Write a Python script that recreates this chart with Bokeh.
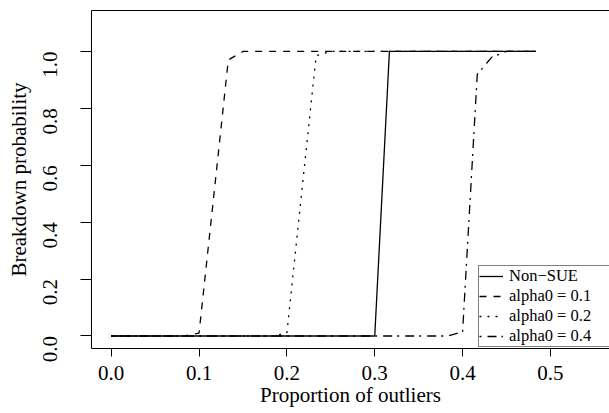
import math
from bokeh.plotting import figure
from bokeh.models import (Legend, LegendItem, LinearAxis, FixedTicker,
                          PrintfTickFormatter, Range1d)
from bokeh.embed import file_html
from bokeh.resources import INLINE

# ---- data ----
proportion = [0.0, 0.0167, 0.0333, 0.05, 0.0667, 0.0833, 0.1, 0.1167, 0.1333,
              0.15, 0.1667, 0.1833, 0.2, 0.2167, 0.2333, 0.25, 0.2667, 0.2833,
              0.3, 0.3167, 0.3333, 0.35, 0.3667, 0.3833, 0.4, 0.4167, 0.4333,
              0.45, 0.4667, 0.4833]
non_sue = [0, 0, 0, 0, 0, 0, 0, 0, 0, 0, 0, 0, 0, 0, 0, 0, 0, 0, 0,
           1, 1, 1, 1, 1, 1, 1, 1, 1, 1, 1]
alpha01 = [0, 0, 0, 0, 0, 0, 0.01, 0.49, 0.97, 1, 1, 1, 1, 1, 1, 1, 1, 1, 1,
           1, 1, 1, 1, 1, 1, 1, 1, 1, 1, 1]
alpha02 = [0, 0, 0, 0, 0, 0, 0, 0, 0, 0, 0, 0, 0.01, 0.50, 0.985, 1, 1, 1, 1,
           1, 1, 1, 1, 1, 1, 1, 1, 1, 1, 1]
alpha04 = [0, 0, 0, 0, 0, 0, 0, 0, 0, 0, 0, 0, 0, 0, 0, 0, 0, 0, 0,
           0, 0, 0, 0, 0, 0.015, 0.92, 0.98, 1, 1, 1]

series_labels = ["Non\u2212SUE", "alpha0 = 0.1", "alpha0 = 0.2", "alpha0 = 0.4"]
x_ticks = [0.0, 0.1, 0.2, 0.3, 0.4, 0.5]
y_ticks = [0.0, 0.2, 0.4, 0.6, 0.8, 1.0]

FONT = "Liberation Serif"

p = figure(width=609, height=413,
           x_range=Range1d(-0.0224, 0.5672), y_range=Range1d(-0.044, 1.144),
           output_backend="svg", toolbar_location=None,
           min_border_left=91, min_border_right=0, min_border_top=10,
           min_border_bottom=65)
p.outline_line_color = None
p.grid.visible = False
p.background_fill_color = "white"
p.border_fill_color = "white"

# axes
for ax in (p.xaxis[0], p.yaxis[0]):
    ax.axis_line_color = "black"
    ax.axis_line_width = 1
    ax.major_tick_line_color = "black"
    ax.major_tick_in = 0
    ax.minor_tick_line_color = None
    ax.major_label_text_font = FONT
    ax.major_label_text_font_size = "21px"
    ax.major_label_text_color = "black"
    ax.axis_label_text_font = FONT
    ax.axis_label_text_font_size = "21px"
    ax.axis_label_text_font_style = "normal"
    ax.axis_label_text_color = "black"
    ax.formatter = PrintfTickFormatter(format="%.1f")

p.xaxis.ticker = FixedTicker(ticks=x_ticks)
p.yaxis.ticker = FixedTicker(ticks=y_ticks)
p.xaxis.major_tick_out = 8
p.yaxis.major_tick_out = 11
p.xaxis.major_label_standoff = 9
p.xaxis.axis_label_standoff = 0
p.yaxis.major_label_standoff = 30
p.yaxis.axis_label_standoff = 3
p.yaxis.major_label_orientation = math.pi / 2
p.xaxis.axis_label = "Proportion of outliers"
p.yaxis.axis_label = "Breakdown probability"

# top edge of the box
top = LinearAxis(ticker=FixedTicker(ticks=[]), major_label_text_font_size="0px",
                 axis_line_color="black", axis_line_width=1,
                 major_tick_line_color=None, minor_tick_line_color=None)
p.add_layout(top, "above")

lw = 1.3
r1 = p.line(proportion, non_sue, line_color="black", line_width=lw)
r2 = p.line(proportion, alpha01, line_color="black", line_width=lw, line_dash="7 7")
r3 = p.line(proportion, alpha02, line_color="black", line_width=lw, line_dash="2 6")
r4 = p.line(proportion, alpha04, line_color="black", line_width=lw, line_dash="2 6 9 5")

legend = Legend(items=[LegendItem(label=series_labels[0], renderers=[r1]),
                       LegendItem(label=series_labels[1], renderers=[r2]),
                       LegendItem(label=series_labels[2], renderers=[r3]),
                       LegendItem(label=series_labels[3], renderers=[r4])],
                location=(387, 1), padding=0, margin=0, spacing=0,
                label_height=20, glyph_height=20, glyph_width=24,
                label_standoff=6, label_width=110,
                label_text_font=FONT, label_text_font_size="16.5px",
                label_text_line_height=1.0,
                label_text_color="black",
                border_line_color="black", border_line_width=1,
                background_fill_color="white", background_fill_alpha=1)
p.add_layout(legend)

open("out.html", "w").write(file_html(p, INLINE))
